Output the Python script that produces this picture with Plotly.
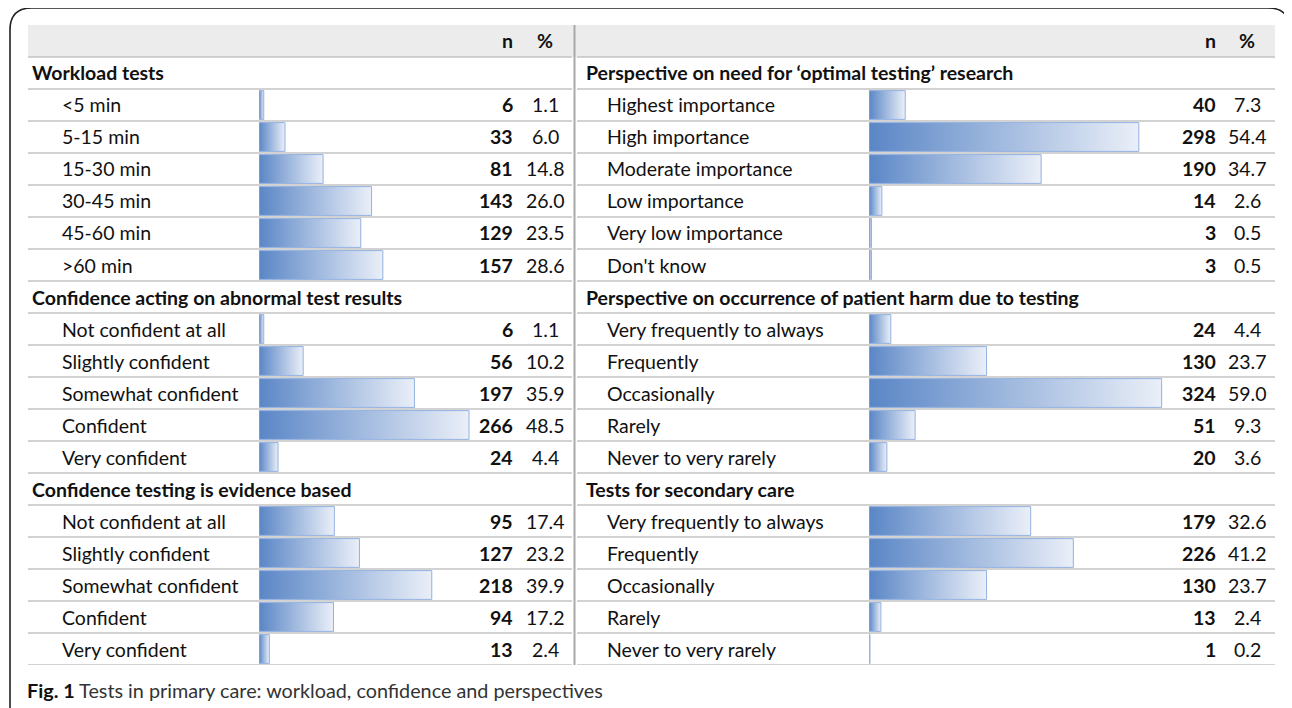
import plotly.graph_objects as go

# the page body adds an 8px margin, so the figure is drawn 8px smaller and
# all pixel positions below are given in window coordinates
OFF = 8
FW, FH = 1292 - OFF, 708 - OFF

# ---------------- data ----------------
left_sections = ["Workload tests",
                 "Confidence acting on abnormal test results",
                 "Confidence testing is evidence based"]
workload_labels = ["<5 min", "5-15 min", "15-30 min", "30-45 min", "45-60 min", ">60 min"]
workload_n = [6, 33, 81, 143, 129, 157]
workload_pct = [1.1, 6.0, 14.8, 26.0, 23.5, 28.6]

conf_labels = ["Not confident at all", "Slightly confident", "Somewhat confident",
               "Confident", "Very confident"]
conf_act_n = [6, 56, 197, 266, 24]
conf_act_pct = [1.1, 10.2, 35.9, 48.5, 4.4]
conf_evid_n = [95, 127, 218, 94, 13]
conf_evid_pct = [17.4, 23.2, 39.9, 17.2, 2.4]

right_sections = ["Perspective on need for \u2018optimal testing\u2019 research",
                  "Perspective on occurrence of patient harm due to testing",
                  "Tests for secondary care"]
importance_labels = ["Highest importance", "High importance", "Moderate importance",
                     "Low importance", "Very low importance", "Don't know"]
importance_n = [40, 298, 190, 14, 3, 3]
importance_pct = [7.3, 54.4, 34.7, 2.6, 0.5, 0.5]

freq_labels = ["Very frequently to always", "Frequently", "Occasionally",
               "Rarely", "Never to very rarely"]
harm_n = [24, 130, 324, 51, 20]
harm_pct = [4.4, 23.7, 59.0, 9.3, 3.6]
secondary_n = [179, 226, 130, 13, 1]
secondary_pct = [32.6, 41.2, 23.7, 2.4, 0.2]

header_labels = ["n", "%"]
caption_bold = "Fig. 1"
caption_text = "Tests in primary care: workload, confidence and perspectives"

# ---------------- layout helpers ----------------
FONT = "Lato"
FS = 19.5
TXT = "#111111"
GRID = "#c3c3c3"
C0, C1 = "#5a86c6", "#eaeff8"
BORDER = "#93b1e0"


def px(x):
    return (x - OFF) / FW


def py(y):
    return 1 - (y - OFF) / FH


TOP, ROWH, NROWS = 25, 32, 20
BOT = TOP + ROWH * NROWS


def build_rows(sections, groups):
    rows = []
    for sec, (labels, ns, ps) in zip(sections, groups):
        rows.append(("section", sec, None, None))
        for l, n, p in zip(labels, ns, ps):
            rows.append(("item", l, n, p))
    return rows


left_rows = build_rows(left_sections, [(workload_labels, workload_n, workload_pct),
                                       (conf_labels, conf_act_n, conf_act_pct),
                                       (conf_labels, conf_evid_n, conf_evid_pct)])
right_rows = build_rows(right_sections, [(importance_labels, importance_n, importance_pct),
                                         (freq_labels, harm_n, harm_pct),
                                         (freq_labels, secondary_n, secondary_pct)])

panels = [
    dict(rows=left_rows, axis="x", x0=28, x1=572, sec_x=30, item_x=60,
         n_x=515, pct_x=545, bar0=259, bar1=560, ppp=4.33),
    dict(rows=right_rows, axis="x2", x0=577, x1=1275, sec_x=584, item_x=605,
         n_x=1218, pct_x=1247, bar0=869, bar1=1200, ppp=4.96),
]

fig = go.Figure()
annotations = []
shapes = []

# outer rounded frame
r = 22
shapes.append(dict(
    type="path", xref="paper", yref="paper",
    path=(f"M {px(10)} {py(720)} L {px(10)} {py(8 + r)} "
          f"Q {px(10)} {py(8)} {px(10 + r)} {py(8)} "
          f"L {px(1290 - r)} {py(8)} Q {px(1290)} {py(8)} {px(1290)} {py(8 + r)} "
          f"L {px(1290)} {py(720)}"),
    line=dict(color="#222222", width=1.6), layer="below"))

# header background
shapes.append(dict(type="rect", xref="paper", yref="y", x0=px(28), x1=px(1275),
                   y0=-0.5, y1=0.5, fillcolor="#ececec", line=dict(width=0), layer="below"))

half = 0.45
for p in panels:
    annotations.append(dict(x=px(p["n_x"]), y=0, xref="paper", yref="y",
                            text=f"<b>{header_labels[0]}</b>",
                            xanchor="right", yanchor="middle", showarrow=False,
                            font=dict(family=FONT, size=FS, color=TXT)))
    annotations.append(dict(x=px(p["pct_x"]), y=0, xref="paper", yref="y",
                            text=f"<b>{header_labels[1]}</b>",
                            xanchor="center", yanchor="middle", showarrow=False,
                            font=dict(family=FONT, size=FS, color=TXT)))
    for i in range(NROWS):
        shapes.append(dict(type="line", xref="paper", yref="y", x0=px(p["x0"]), x1=px(p["x1"]),
                           y0=i + 0.5, y1=i + 0.5, line=dict(color=GRID, width=1.5)))
    for i, (kind, label, n, pct) in enumerate(p["rows"], start=1):
        if kind == "section":
            annotations.append(dict(x=px(p["sec_x"]), y=i, xref="paper", yref="y",
                                    text=f"<b>{label}</b>", xanchor="left", yanchor="middle",
                                    showarrow=False, font=dict(family=FONT, size=FS, color=TXT)))
            continue
        annotations.append(dict(x=px(p["item_x"]), y=i, xref="paper", yref="y",
                                text=label.replace("<", "&lt;").replace(">", "&gt;"),
                                xanchor="left", yanchor="middle", showarrow=False,
                                font=dict(family=FONT, size=FS, color=TXT)))
        annotations.append(dict(x=px(p["n_x"]), y=i, xref="paper", yref="y",
                                text=f"<b>{n}</b>", xanchor="right", yanchor="middle",
                                showarrow=False, font=dict(family=FONT, size=FS, color=TXT)))
        annotations.append(dict(x=px(p["pct_x"]), y=i, xref="paper", yref="y",
                                text=f"{pct:.1f}", xanchor="center", yanchor="middle",
                                showarrow=False, font=dict(family=FONT, size=FS, color=TXT)))
        fig.add_trace(go.Scatter(
            x=[0, pct, pct, 0, 0], y=[i - half, i - half, i + half, i + half, i - half],
            xaxis=p["axis"], yaxis="y", mode="lines", fill="toself",
            fillgradient=dict(type="horizontal", colorscale=[[0, C0], [1, C1]]),
            line=dict(color=BORDER, width=1), hoverinfo="skip", showlegend=False))

# vertical divider
shapes.append(dict(type="line", xref="paper", yref="paper", x0=px(574.5), x1=px(574.5),
                   y0=py(TOP), y1=py(BOT), line=dict(color="#a8a8a8", width=2)))

# caption
annotations.append(dict(x=px(25), y=py(690), xref="paper", yref="paper",
                        text=f"<b>{caption_bold}</b> <span style='color:#333333'>{caption_text}</span>",
                        xanchor="left", yanchor="middle", showarrow=False,
                        font=dict(family=FONT, size=19.8, color="#111111")))

L, Rp = panels
fig.update_layout(
    width=FW, height=FH, margin=dict(l=0, r=0, t=0, b=0),
    paper_bgcolor="white", plot_bgcolor="rgba(0,0,0,0)",
    xaxis=dict(domain=[px(L["bar0"]), px(L["bar1"])], range=[0, (L["bar1"] - L["bar0"]) / L["ppp"]],
               visible=False, fixedrange=True),
    xaxis2=dict(domain=[px(Rp["bar0"]), px(Rp["bar1"])], range=[0, (Rp["bar1"] - Rp["bar0"]) / Rp["ppp"]],
                visible=False, fixedrange=True),
    yaxis=dict(domain=[py(BOT), py(TOP)], range=[NROWS - 0.5, -0.5], visible=False, fixedrange=True),
    shapes=shapes, annotations=annotations,
)

fig.write_html("out.html")
